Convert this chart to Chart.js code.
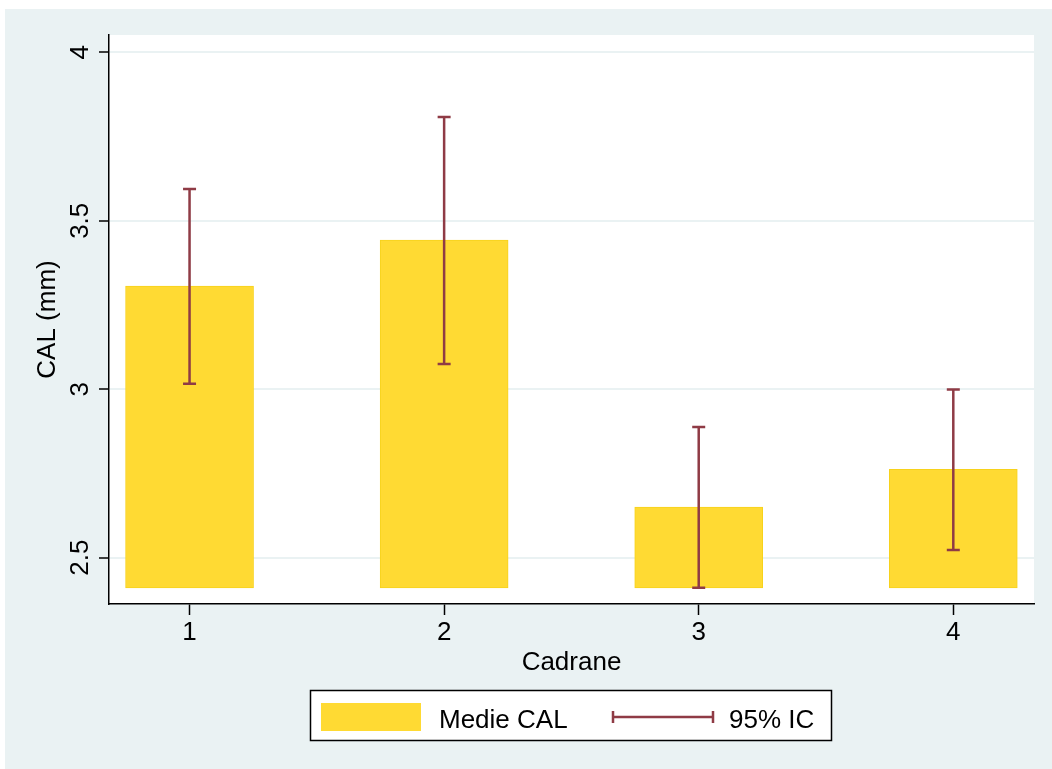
<!DOCTYPE html>
<html>
<head>
<meta charset="utf-8">
<script src="https://cdn.jsdelivr.net/npm/chart.js@4"></script>
<style>
  html, body { margin: 0; padding: 0; background: #fff; }
  canvas { display: block; }
</style>
</head>
<body>
<canvas id="calChart" width="1052" height="769"></canvas>
<script>
// values
const categories = [1, 2, 3, 4];
const meanCAL = [3.306, 3.443, 2.650, 2.762];
const ciLow = [3.016, 3.075, 2.411, 2.523];
const ciHigh = [3.594, 3.808, 2.888, 2.999];
const barBase = 2.41;
const yTicks = [2.5, 3, 3.5, 4];
const legendLabels = ["Medie CAL", "95% IC"];

const BG = "#EAF2F3";
const BAR = "#FFDA33";
const CI = "#8F3B45";
const FONT = "'Liberation Sans', Arial, sans-serif";

Chart.defaults.font.family = FONT;
Chart.defaults.color = "#000";

// background, white plot region, rotated y labels, error bars, legend
const stataLook = {
  id: "stataLook",
  beforeDraw(chart) {
    const { ctx, chartArea: a } = chart;
    ctx.save();
    ctx.fillStyle = "#fff";
    ctx.fillRect(0, 0, chart.width, chart.height);
    ctx.fillStyle = BG;
    ctx.fillRect(5, 9, chart.width - 5, chart.height - 9);
    ctx.fillStyle = "#fff";
    ctx.fillRect(a.left, a.top, a.right - a.left, a.bottom - a.top);
    ctx.restore();
  },
  afterDatasetsDraw(chart) {
    const { ctx, scales: { x, y } } = chart;
    ctx.save();
    ctx.strokeStyle = CI;
    ctx.lineWidth = 2.5;
    categories.forEach((c, i) => {
      const px = x.getPixelForValue(c);
      const top = y.getPixelForValue(ciHigh[i]);
      const bot = y.getPixelForValue(ciLow[i]);
      ctx.beginPath();
      ctx.moveTo(px, top); ctx.lineTo(px, bot);
      ctx.moveTo(px - 6.5, top); ctx.lineTo(px + 6.5, top);
      ctx.moveTo(px - 6.5, bot); ctx.lineTo(px + 6.5, bot);
      ctx.stroke();
    });
    ctx.restore();
  },
  afterDraw(chart) {
    const { ctx, scales: { y } } = chart;
    ctx.save();
    // y tick labels, rotated like Stata
    ctx.fillStyle = "#000";
    ctx.font = "26px " + FONT;
    ctx.textAlign = "center";
    ctx.textBaseline = "alphabetic";
    y.ticks.forEach(t => {
      ctx.save();
      ctx.translate(88, y.getPixelForValue(t.value));
      ctx.rotate(-Math.PI / 2);
      ctx.fillText(String(t.value), 0, 0);
      ctx.restore();
    });

    // legend box
    ctx.fillStyle = "#fff";
    ctx.fillRect(310, 690, 521, 51);
    ctx.strokeStyle = "#000";
    ctx.lineWidth = 1.5;
    ctx.strokeRect(310.5, 690.5, 521, 50);
    ctx.fillStyle = BAR;
    ctx.fillRect(321, 703, 100, 28);
    ctx.fillStyle = "#000";
    ctx.textAlign = "left";
    ctx.fillText(legendLabels[0], 439, 728);
    ctx.strokeStyle = CI;
    ctx.lineWidth = 2.5;
    ctx.beginPath();
    ctx.moveTo(613, 717); ctx.lineTo(713, 717);
    ctx.moveTo(613, 711); ctx.lineTo(613, 723);
    ctx.moveTo(713, 711); ctx.lineTo(713, 723);
    ctx.stroke();
    ctx.fillText(legendLabels[1], 729, 728);
    ctx.restore();
  }
};

const ctx = document.getElementById("calChart").getContext("2d");
const chart = new Chart(ctx, {
  type: "bar",
  data: {
    datasets: [{
      label: legendLabels[0],
      data: categories.map((c, i) => ({ x: c, y: [barBase, meanCAL[i]] })),
      backgroundColor: BAR,
      borderColor: "#F7D21C",
      borderWidth: 1,
      borderSkipped: false,
      barThickness: 128
    }]
  },
  options: {
    responsive: false,
    animation: false,
    devicePixelRatio: 1,
    layout: { padding: { left: 0, top: 35, right: 18, bottom: 85 } },
    plugins: { legend: { display: false }, tooltip: { enabled: false } },
    scales: {
      x: {
        type: "linear",
        offset: false,
        min: 0.6836,
        max: 4.317,
        afterBuildTicks: s => { s.ticks = categories.map(v => ({ value: v })); },
        afterFit: s => { s.height = 80; },
        grid: { offset: false, drawOnChartArea: false, drawTicks: true, tickLength: 11, tickColor: "#000", tickWidth: 1.5 },
        border: { display: true, color: "#000", width: 1.5 },
        ticks: { font: { size: 26 }, color: "#000", padding: 2, maxRotation: 0 },
        title: { display: true, text: "Cadrane", font: { size: 26 }, color: "#000", padding: { top: 0, bottom: 6 } }
      },
      y: {
        type: "linear",
        min: 2.3626,
        max: 4.0514,
        afterBuildTicks: s => { s.ticks = yTicks.map(v => ({ value: v })); },
        afterFit: s => { s.width = 109; },
        grid: { color: BG, lineWidth: 2, drawTicks: true, tickLength: 10, tickColor: "#000", tickWidth: 1.5 },
        border: { display: true, color: "#000", width: 1.5 },
        ticks: { display: false },
        title: { display: true, text: "CAL (mm)", font: { size: 26 }, color: "#000", padding: { top: 32, bottom: 0 } }
      }
    }
  },
  plugins: [stataLook]
});
</script>
</body>
</html>
